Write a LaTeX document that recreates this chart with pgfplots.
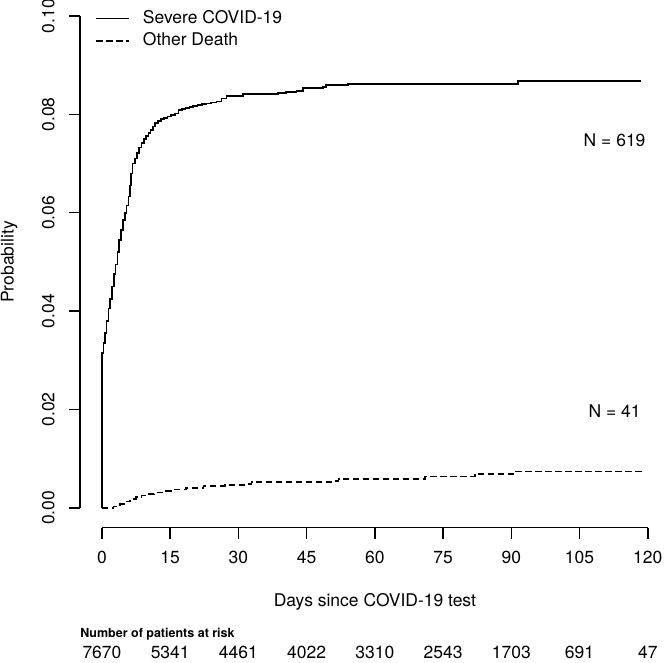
\documentclass[border=0pt]{standalone}
\usepackage{pgfplots}
\pgfplotsset{compat=1.18}
\usepackage{pgfplotstable}
\usepackage{fontspec}
\setmainfont{TeX Gyre Heros}

\newcommand{\fs}{\fontsize{17.5bp}{21bp}\selectfont}

% cumulative incidence, severe COVID-19
\pgfplotstableread{
day p
0 0
0.02 0.0315
0.3 0.0335
0.6 0.0355
1.0 0.0380
1.4 0.0405
1.8 0.0425
2.2 0.0450
2.6 0.0475
3.0 0.0495
3.4 0.0520
3.8 0.0545
4.2 0.0565
4.6 0.0585
5.0 0.0600
5.4 0.0615
5.8 0.0633
6.1 0.0655
6.4 0.0680
6.7 0.0700
7.2 0.0710
7.7 0.0722
8.2 0.0733
8.7 0.0742
9.2 0.0750
9.7 0.0756
10.2 0.0762
10.7 0.0768
11.2 0.0775
11.7 0.0782
12.3 0.0786
13.0 0.0790
13.7 0.0793
14.4 0.0796
15.2 0.0799
16.0 0.0802
16.8 0.0809
17.6 0.0811
18.4 0.0813
19.2 0.0815
20.0 0.0817
21.0 0.0819
22.0 0.0821
23.0 0.0822
24.0 0.0824
25.2 0.0826
26.3 0.0832
27.4 0.0837
31.0 0.0841
38.7 0.0843
40.5 0.0845
42.8 0.0848
44.2 0.0853
48.6 0.0856
49.3 0.0860
54.1 0.0862
91.4 0.0868
118.5 0.0868
}\severe

% cumulative incidence, other death
\pgfplotstableread{
day p
0 0
2.5 0.0003
4.0 0.0008
5.0 0.0013
6.2 0.0018
7.5 0.0022
8.7 0.0025
9.8 0.0028
11.5 0.0031
13.5 0.0034
15.7 0.0037
18.5 0.0041
22.3 0.0045
27.0 0.0047
31.8 0.0049
32.9 0.0053
50.8 0.0055
52.0 0.0059
71.0 0.0064
82.0 0.0069
90.4 0.0074
118.9 0.0074
}\other

\begin{document}
\begin{tikzpicture}
\begin{axis}[
    scale only axis,
    width=567.8bp, height=511.7bp,
    xmin=-4.8, xmax=120,
    ymin=-0.004, ymax=0.1,
    clip=false,
    axis x line*=bottom, axis y line*=left,
    axis line style={draw=none},
    xtick={0,15,30,45,60,75,90,105,120},
    ytick={0,0.02,0.04,0.06,0.08,0.1},
    y tick label style={/pgf/number format/fixed, /pgf/number format/fixed zerofill,
        /pgf/number format/precision=2, rotate=90, anchor=south},
    /pgf/number format/assume math mode=true,
    tick align=outside,
    major tick length=11bp,
    tick style={black, line width=1.5bp},
    ticklabel style={font=\fs},
    xticklabel shift=9bp,
    yticklabel shift=11bp,
    legend style={at={(axis cs:-1.5,0.1015)}, anchor=north west, draw=none, fill=none,
        font=\fs, inner sep=0pt, row sep=3bp,
        nodes={text height=12.5bp, text depth=3bp, inner sep=2bp},
        /tikz/every odd column/.append style={column sep=11bp}},
    legend cell align=left,
    legend image code/.code={\draw[#1] (0bp,0bp) -- (33bp,0bp);},
]
\addplot[const plot, black, line width=1.6bp] table[x=day, y=p] {\severe};
\addlegendentry{Severe COVID-19}
\addplot[const plot, black, line width=1.6bp, dash pattern=on 6.5bp off 3.5bp] table[x=day, y=p] {\other};
\addlegendentry{Other Death}

% R-style detached axis lines
\draw[line width=1.5bp] (axis cs:0,-0.004) -- (axis cs:120,-0.004);
\draw[line width=1.5bp] (axis cs:-4.8,0) -- (axis cs:-4.8,0.1);

\node[font=\fs] at (axis cs:112.7,0.0748) {N = 619};
\node[font=\fs] at (axis cs:112.7,0.0196) {N = 41};

\node[font=\fs] at (axis cs:60,-0.0191) {Days since COVID-19 test};
\node[font=\fs, rotate=90] at (axis cs:-20.4,0.05) {Probability};

\node[font=\fontsize{12.5bp}{15bp}\selectfont\bfseries, anchor=west, inner sep=0pt] at (axis cs:-4.8,-0.0256) {Number of patients at risk};
\begin{scope}[every node/.style={font=\fs, inner sep=0pt}]
\node at (axis cs:0,-0.0294) {7670};
\node at (axis cs:15,-0.0294) {5341};
\node at (axis cs:30,-0.0294) {4461};
\node at (axis cs:45,-0.0294) {4022};
\node at (axis cs:60,-0.0294) {3310};
\node at (axis cs:75,-0.0294) {2543};
\node at (axis cs:90,-0.0294) {1703};
\node at (axis cs:105,-0.0294) {691};
\node at (axis cs:120,-0.0294) {47};
\end{scope}

\coordinate (bl) at (axis cs:-22.42,-0.0315);
\coordinate (tr) at (axis cs:124.0,0.10325);
\end{axis}
\pgfresetboundingbox
\path[use as bounding box] (bl) rectangle (tr);
\end{tikzpicture}
\end{document}
